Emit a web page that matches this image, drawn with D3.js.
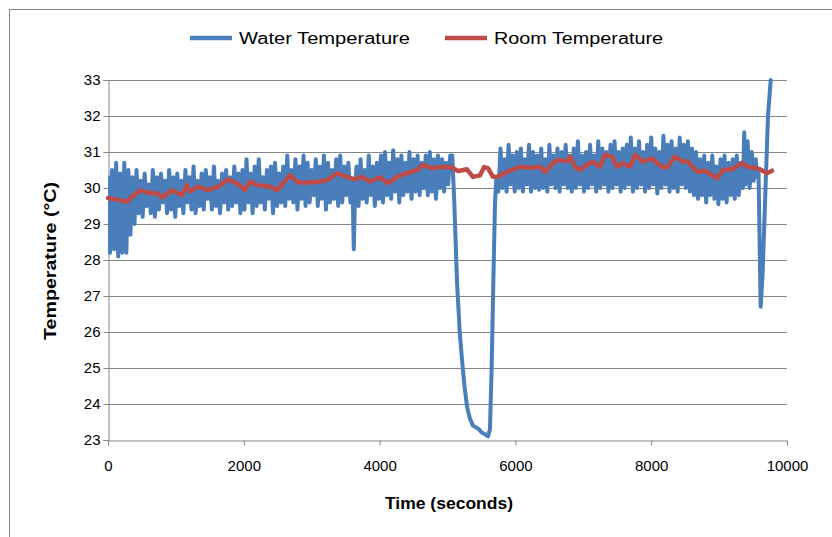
<!DOCTYPE html>
<html><head><meta charset="utf-8">
<script src="https://cdn.jsdelivr.net/npm/d3@7"></script>
<style>body{margin:0;background:#fff}svg{display:block}text{font-family:"Liberation Sans",Arial,sans-serif;fill:#000}</style>
</head><body><svg id="c" width="832" height="537"></svg>
<script>
const seriesNames = ["Water Temperature", "Room Temperature"];
const xTicks = [0, 2000, 4000, 6000, 8000, 10000];
const yTicks = [23, 24, 25, 26, 27, 28, 29, 30, 31, 32, 33];

const waterTime = [
0,30,60,90,120,150,180,210,240,270,
300,330,360,390,420,450,480,510,540,570,600,630,660,690,720,750,780,810,840,870,900,930,960,990,
1020,1050,1080,1110,1140,1170,1200,1230,1260,1290,1320,1350,1380,1410,1440,1470,1500,1530,1560,1590,1620,1650,1680,1710,1740,1770,1800,1830,1860,1890,1920,1950,1980,
2010,2040,2070,2100,2130,2160,2190,2220,2250,2280,2310,2340,2370,2400,2430,2460,2490,2520,2550,2580,
2610,2640,2670,2700,2730,2760,2790,2820,2850,2880,2910,2940,2970,3000,3030,3060,3090,3120,3150,3180,3210,3240,3270,3300,3330,3360,3390,3420,3450,3480,3510,3540,3570,
3600,3620,3640,
3660,3690,3720,3750,3780,3810,3840,3870,3900,3930,3960,3990,
4020,4050,4080,4110,4140,4170,4200,4230,4260,4290,4320,4350,4380,4410,4440,4470,4500,4530,4560,4590,4620,4650,4680,4710,4740,4770,4800,4830,4860,4890,4920,4950,4980,5010,5040,
5070,5100,5140,5180,5215,5250,5290,5330,5375,5420,5460,5510,5560,5597,5625,5650,5675,5700,5720,
5750,5780,5810,5840,5870,5900,5930,5960,5990,6020,6050,6080,6110,6140,6170,6200,6230,6260,6290,6320,6350,6380,6410,6440,6470,6500,6530,6560,6590,
6620,6650,6680,6710,6740,6770,6800,6830,6860,6890,6920,6950,6980,7010,7040,7070,7100,7130,7160,7190,7220,7250,7280,7310,7340,7370,7400,7430,7460,7490,7520,7550,7580,7610,
7640,7670,7700,7730,7760,7790,7820,7850,7880,7910,7940,7970,8000,8030,8060,8090,8120,8150,8180,8210,8240,8270,8300,8330,8360,8390,8420,8450,8480,8510,8540,8570,8600,
8630,8660,8690,8720,8750,8780,8810,8840,8870,8900,8930,8960,8990,9020,9050,9080,9110,9140,9170,9200,9230,9260,9290,9320,
9350,9370,9390,9420,9450,9480,9510,9540,9560,9580,
9612,9640,9680,9720,9760];
const waterTemp = [
30.3,28.2,30.5,28.3,30.7,28.1,30.4,28.2,30.7,28.2,
30.5,28.7,30.3,29.0,30.5,29.3,30.2,29.2,30.4,29.5,30.1,29.3,30.5,29.2,30.3,29.4,30.4,29.6,30.2,29.3,30.5,29.4,30.3,29.2,
30.4,29.5,30.2,29.3,30.5,29.6,30.3,29.4,30.6,29.3,30.2,29.5,30.4,29.4,30.5,29.7,30.3,29.4,30.6,29.5,30.2,29.3,30.4,29.6,30.5,29.4,30.3,29.5,30.6,29.6,30.4,29.3,30.5,
29.4,30.8,29.6,30.4,29.3,30.6,29.5,30.8,29.6,30.3,29.4,30.5,29.7,30.6,29.3,30.7,29.5,30.4,29.6,30.6,
29.5,30.9,29.7,30.5,29.6,30.8,29.4,30.6,29.7,30.9,29.5,30.7,29.6,30.5,29.8,30.8,29.5,30.6,29.7,30.9,29.4,30.7,29.6,30.5,29.7,30.8,29.5,30.9,29.6,30.6,29.8,30.7,29.6,
30.2,28.3,30.0,
30.6,29.5,30.8,29.7,30.5,29.6,30.9,29.8,30.6,29.5,30.7,29.7,
30.9,29.6,31.0,29.8,30.7,29.7,31.05,29.9,30.8,29.6,30.9,29.8,30.7,29.9,31.0,29.7,30.8,29.9,30.9,29.8,30.7,30.0,30.9,29.8,31.0,29.9,30.8,29.7,30.9,30.0,30.8,29.9,30.7,30.1,30.9,
30.9,29.6,27.4,26.0,25.2,24.5,23.9,23.6,23.4,23.35,23.3,23.2,23.15,23.1,23.3,25.0,27.4,29.6,30.3,
29.9,31.1,30.0,30.8,29.9,31.2,30.1,30.9,29.9,31.0,30.0,31.1,29.9,30.8,30.1,31.2,29.9,31.0,30.0,30.9,29.95,31.1,30.0,30.8,29.9,31.2,30.1,30.9,30.0,
31.1,29.9,31.0,30.1,31.2,30.0,30.9,29.9,31.1,30.0,31.3,30.1,30.9,29.9,31.0,30.0,31.2,30.1,30.9,29.9,31.3,30.0,31.1,30.1,31.0,29.9,31.2,30.0,31.3,30.1,31.0,29.9,31.1,30.0,
31.2,30.1,31.4,29.9,31.1,30.0,31.3,30.1,31.0,29.9,31.2,30.0,31.4,30.1,31.1,29.85,31.0,30.0,31.45,30.1,31.2,29.9,31.3,30.0,31.1,29.9,31.4,30.1,31.2,30.0,31.3,29.9,31.1,
29.8,31.0,29.7,30.8,29.8,30.9,29.6,30.7,29.8,30.9,29.7,30.6,29.55,30.8,29.7,30.9,29.6,30.7,29.8,30.8,29.7,30.9,29.8,30.7,
30.0,31.55,30.1,31.3,30.0,31.0,30.2,30.8,30.3,30.5,
26.7,27.6,29.8,32.0,33.0];

const roomTime = [0,147,280,324,471,589,736,795,943,1090,1163,1208,1325,1473,1620,1767,1900,2018,2091,2194,2386,2489,2577,2680,2798,2975,3122,3225,3373,3520,3638,3741,3858,4006,4124,4256,4403,4551,4639,4772,4919,5066,5155,5287,5375,5478,5537,5596,5670,5743,5876,6068,6215,6362,6436,6554,6627,6760,6804,6878,6951,7054,7143,7246,7319,7422,7496,7584,7688,7761,7879,8011,8159,8232,8350,8453,8542,8674,8792,8895,8969,9057,9190,9337,9410,9499,9602,9705,9779];
const roomTemp = [29.72,29.67,29.62,29.71,29.94,29.87,29.85,29.74,29.94,29.80,30.08,29.90,30.04,29.94,30.04,30.24,30.13,29.94,30.18,30.08,30.04,29.94,30.13,30.36,30.15,30.15,30.18,30.22,30.41,30.31,30.24,30.31,30.18,30.30,30.13,30.31,30.41,30.50,30.64,30.55,30.59,30.57,30.47,30.52,30.31,30.35,30.58,30.55,30.31,30.32,30.45,30.59,30.56,30.59,30.45,30.69,30.78,30.74,30.87,30.59,30.50,30.65,30.73,30.59,30.92,30.87,30.59,30.69,30.59,30.92,30.73,30.82,30.59,30.57,30.87,30.74,30.73,30.45,30.48,30.36,30.27,30.50,30.52,30.69,30.59,30.57,30.52,30.41,30.48];

const water = waterTime.map((t, i) => ({t, v: waterTemp[i]})).filter(d => d.v != null);
const room = roomTime.map((t, i) => ({t, v: roomTemp[i]}));
console.log(waterTime.length, waterTemp.length);

const svg = d3.select("#c");
const L = 108, T = 80, W = 679, H = 360;
const grid = "#868686";

svg.append("rect").attr("x", 9.5).attr("y", 9.5).attr("width", 840).attr("height", 540)
  .attr("fill", "none").attr("stroke", grid).attr("stroke-width", 1);

const x = d3.scaleLinear().domain([0, 10000]).range([L, L + W]);
const y = d3.scaleLinear().domain([23, 33]).range([T + H, T]);

svg.append("g").selectAll("line").data(yTicks.slice(1)).join("line")
  .attr("x1", L).attr("x2", L + W)
  .attr("y1", d => Math.round(y(d)) + 0.5).attr("y2", d => Math.round(y(d)) + 0.5)
  .attr("stroke", grid).attr("stroke-width", 1);

const yAxis = svg.append("g").attr("transform", `translate(${L + 0.5},0)`)
  .call(d3.axisLeft(y).tickValues(yTicks).tickSize(5).tickPadding(3).tickFormat(d3.format("d")));
yAxis.select(".domain").attr("stroke", grid);
yAxis.selectAll(".tick line").attr("stroke", grid);
yAxis.selectAll(".tick text").attr("font-size", 15).attr("font-family", "Liberation Sans, Arial").attr("fill", "#000");

const xAxis = svg.append("g").attr("transform", `translate(0,${T + H + 0.5})`)
  .call(d3.axisBottom(x).tickValues(xTicks).tickSize(5).tickPadding(15).tickFormat(d3.format("d")));
xAxis.select(".domain").attr("stroke", grid);
xAxis.selectAll(".tick line").attr("stroke", grid);
xAxis.selectAll(".tick text").attr("font-size", 15).attr("font-family", "Liberation Sans, Arial").attr("fill", "#000");

const line = d3.line().x(d => x(d.t)).y(d => y(d.v));
svg.append("clipPath").attr("id", "pc").append("rect")
  .attr("x", L).attr("y", T - 2).attr("width", W).attr("height", H + 4);
svg.append("path").datum(water).attr("d", line).attr("fill", "none")
  .attr("stroke", "#4A7EBB").attr("stroke-width", 4).attr("stroke-linejoin", "round").attr("stroke-linecap", "round")
  .attr("clip-path", "url(#pc)");
svg.append("path").datum(room).attr("d", line).attr("fill", "none")
  .attr("stroke", "#BE4B48").attr("stroke-width", 4.5).attr("stroke-linejoin", "round").attr("stroke-linecap", "round");

svg.append("text").attr("x", 449).attr("y", 509).attr("text-anchor", "middle")
  .attr("font-size", 16).attr("font-weight", "bold")
  .attr("textLength", 128).attr("lengthAdjust", "spacingAndGlyphs").text("Time (seconds)");
svg.append("text").attr("transform", `translate(56,261) rotate(-90)`).attr("text-anchor", "middle")
  .attr("font-size", 16).attr("font-weight", "bold")
  .attr("textLength", 158).attr("lengthAdjust", "spacingAndGlyphs").text("Temperature (°C)");

const legend = [{name: seriesNames[0], color: "#4A7EBB", x: 190, w: 171}, {name: seriesNames[1], color: "#BE4B48", x: 445, w: 169}];
const lg = svg.selectAll("g.lg").data(legend).join("g").attr("transform", d => `translate(${d.x},38)`);
lg.append("line").attr("x1", 0).attr("x2", 42).attr("stroke", d => d.color).attr("stroke-width", 4.5);
lg.append("text").attr("x", 49).attr("dy", "0.35em").attr("font-size", 16)
  .attr("textLength", d => d.w).attr("lengthAdjust", "spacingAndGlyphs").text(d => d.name);
</script></body></html>
